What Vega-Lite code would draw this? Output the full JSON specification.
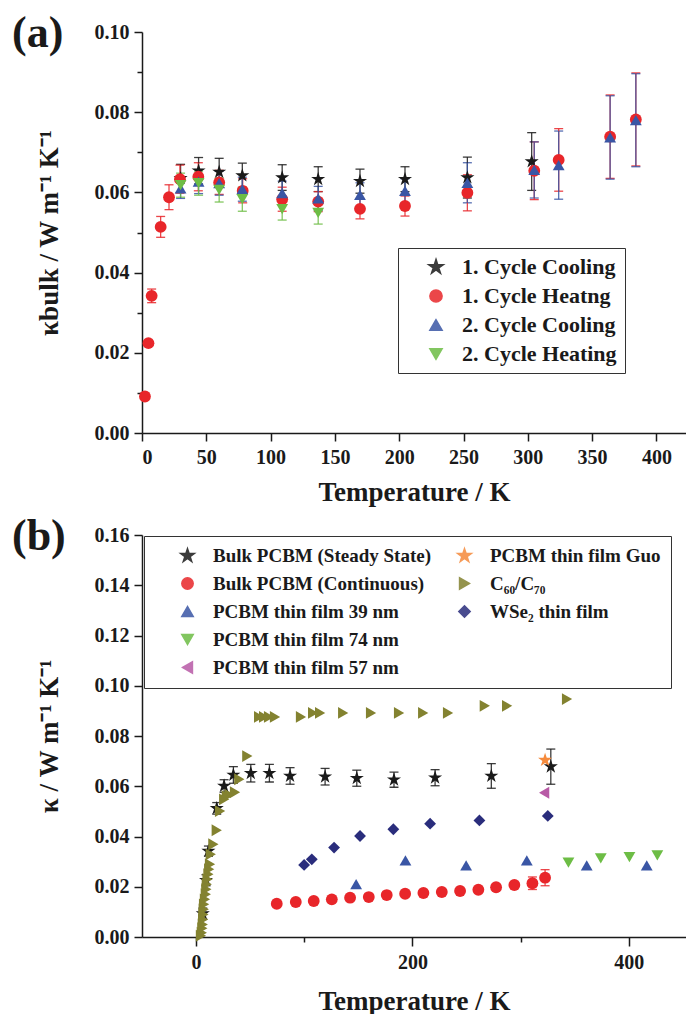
{
  "$schema": "https://vega.github.io/schema/vega-lite/v6.json",
  "background": "white",
  "padding": {"left": 12, "top": 12, "right": 0, "bottom": 0},
  "spacing": 10,
  "config": {
    "view": {"stroke": null},
    "font": "Liberation Serif",
    "axis": {
      "grid": false,
      "labelFont": "Liberation Serif", "labelFontWeight": "bold", "labelFontSize": 20, "labelColor": "#1a1a1a",
      "titleFont": "Liberation Serif", "titleFontWeight": "bold", "titleFontSize": 27, "titleColor": "#1a1a1a",
      "domainColor": "#1a1a1a", "domainWidth": 1.5, "tickColor": "#1a1a1a", "tickWidth": 1.5
    },
    "legend": {
      "labelFont": "Liberation Serif", "labelFontWeight": "bold", "labelColor": "#1a1a1a", "labelLimit": 400,
      "strokeColor": "#333333", "fillColor": "white", "title": null
    },
    "title": {"font": "Liberation Serif", "fontWeight": "bold", "fontSize": 44, "color": "#1a1a1a"}
  },
  "resolve": {"scale": {"color": "independent", "shape": "independent"}, "legend": {"color": "independent", "shape": "independent"}},
  "vconcat": [
    {
      "width": 544,
      "height": 401,
      "title": {"text": "(a)", "anchor": "start", "frame": "group", "baseline": "alphabetic", "dx": -130, "dy": 27, "offset": -42},
      "data": {"values": [
        {"s": "1. Cycle Cooling", "T": 30, "k": 0.0635, "err": 0.0035},
        {"s": "1. Cycle Cooling", "T": 44, "k": 0.0654, "err": 0.0033},
        {"s": "1. Cycle Cooling", "T": 60, "k": 0.0651, "err": 0.0034},
        {"s": "1. Cycle Cooling", "T": 78, "k": 0.0642, "err": 0.0031},
        {"s": "1. Cycle Cooling", "T": 109, "k": 0.0637, "err": 0.0032},
        {"s": "1. Cycle Cooling", "T": 137, "k": 0.0633, "err": 0.0031},
        {"s": "1. Cycle Cooling", "T": 169.5, "k": 0.0628, "err": 0.003},
        {"s": "1. Cycle Cooling", "T": 204.5, "k": 0.0633, "err": 0.0031},
        {"s": "1. Cycle Cooling", "T": 253, "k": 0.0637, "err": 0.0051},
        {"s": "1. Cycle Cooling", "T": 303, "k": 0.0677, "err": 0.0072},
        {"s": "1. Cycle Heatng", "T": 2.3, "k": 0.0091, "err": 0.0005},
        {"s": "1. Cycle Heatng", "T": 5, "k": 0.0224, "err": 0.0006},
        {"s": "1. Cycle Heatng", "T": 7.5, "k": 0.0342, "err": 0.0017},
        {"s": "1. Cycle Heatng", "T": 14.5, "k": 0.0514, "err": 0.0026},
        {"s": "1. Cycle Heatng", "T": 21, "k": 0.0588, "err": 0.0031},
        {"s": "1. Cycle Heatng", "T": 29.5, "k": 0.0633, "err": 0.0035},
        {"s": "1. Cycle Heatng", "T": 43.8, "k": 0.0639, "err": 0.0035},
        {"s": "1. Cycle Heatng", "T": 60, "k": 0.0625, "err": 0.003},
        {"s": "1. Cycle Heatng", "T": 78.3, "k": 0.0604, "err": 0.003},
        {"s": "1. Cycle Heatng", "T": 109, "k": 0.0583, "err": 0.003},
        {"s": "1. Cycle Heatng", "T": 137, "k": 0.0577, "err": 0.0025},
        {"s": "1. Cycle Heatng", "T": 169.5, "k": 0.0559, "err": 0.0025},
        {"s": "1. Cycle Heatng", "T": 204.5, "k": 0.0566, "err": 0.0025},
        {"s": "1. Cycle Heatng", "T": 253, "k": 0.0599, "err": 0.0045},
        {"s": "1. Cycle Heatng", "T": 305, "k": 0.0654, "err": 0.0072},
        {"s": "1. Cycle Heatng", "T": 324, "k": 0.0681, "err": 0.0078},
        {"s": "1. Cycle Heatng", "T": 364, "k": 0.0739, "err": 0.0104},
        {"s": "1. Cycle Heatng", "T": 384, "k": 0.0782, "err": 0.0116},
        {"s": "2. Cycle Cooling", "T": 30, "k": 0.061, "err": 0.0025},
        {"s": "2. Cycle Cooling", "T": 44, "k": 0.0627, "err": 0.003},
        {"s": "2. Cycle Cooling", "T": 60, "k": 0.0623, "err": 0.003},
        {"s": "2. Cycle Cooling", "T": 78, "k": 0.0608, "err": 0.003},
        {"s": "2. Cycle Cooling", "T": 109, "k": 0.0598, "err": 0.003},
        {"s": "2. Cycle Cooling", "T": 137, "k": 0.0585, "err": 0.003},
        {"s": "2. Cycle Cooling", "T": 169.5, "k": 0.0594, "err": 0.003},
        {"s": "2. Cycle Cooling", "T": 204.5, "k": 0.0604, "err": 0.003},
        {"s": "2. Cycle Cooling", "T": 253, "k": 0.0624, "err": 0.005},
        {"s": "2. Cycle Cooling", "T": 305, "k": 0.0656, "err": 0.007},
        {"s": "2. Cycle Cooling", "T": 324, "k": 0.0668, "err": 0.0085},
        {"s": "2. Cycle Cooling", "T": 364, "k": 0.0737, "err": 0.0104},
        {"s": "2. Cycle Cooling", "T": 384, "k": 0.078, "err": 0.0116},
        {"s": "2. Cycle Heating", "T": 30, "k": 0.0618, "err": 0.003},
        {"s": "2. Cycle Heating", "T": 44, "k": 0.0623, "err": 0.003},
        {"s": "2. Cycle Heating", "T": 60, "k": 0.0606, "err": 0.003},
        {"s": "2. Cycle Heating", "T": 78, "k": 0.0583, "err": 0.003},
        {"s": "2. Cycle Heating", "T": 109, "k": 0.0558, "err": 0.0027},
        {"s": "2. Cycle Heating", "T": 137, "k": 0.0549, "err": 0.0028}
      ]},
      "layer": [
        {
          "mark": {"type": "errorbar", "ticks": true, "size": 9, "thickness": 1.3, "opacity": 0.85},
          "encoding": {
            "x": {"field": "T", "type": "quantitative", "title": "Temperature / K"},
            "y": {"field": "k", "type": "quantitative", "title": "κbulk / W m⁻¹ K⁻¹"},
            "yError": {"field": "err"},
            "color": {"field": "s", "type": "nominal"}
          }
        },
        {
          "mark": {"type": "point", "filled": true, "opacity": 1, "size": 140},
          "encoding": {
            "x": {
              "field": "T", "type": "quantitative", "title": "Temperature / K",
              "scale": {"domain": [0, 423], "nice": false, "zero": false},
              "axis": {
                "titlePadding": 12, "labelPadding": 6,
                "values": [0, 25, 50, 75, 100, 125, 150, 175, 200, 225, 250, 275, 300, 325, 350, 375, 400],
                "labelExpr": "datum.value % 50 === 0 ? datum.label : ''",
                "tickSize": {"condition": {"test": "datum.value % 50 === 0", "value": 8}, "value": 5}
              }
            },
            "y": {
              "field": "k", "type": "quantitative", "title": "κbulk / W m⁻¹ K⁻¹",
              "scale": {"domain": [0, 0.1], "nice": false},
              "axis": {
                "titlePadding": 31, "labelPadding": 5, "format": ".2f",
                "values": [0, 0.01, 0.02, 0.03, 0.04, 0.05, 0.06, 0.07, 0.08, 0.09, 0.1],
                "labelExpr": "round(datum.value * 100) % 2 === 0 ? datum.label : ''",
                "tickSize": {"condition": {"test": "round(datum.value * 100) % 2 === 0", "value": 8}, "value": 5}
              }
            },
            "color": {
              "field": "s", "type": "nominal",
              "scale": {
                "domain": ["1. Cycle Cooling", "1. Cycle Heatng", "2. Cycle Cooling", "2. Cycle Heating"],
                "range": ["#1a1a1a", "#e8262a", "#3a56a5", "#6dbd45"]
              },
              "legend": {
                "orient": "none", "legendX": 256, "legendY": 216, "padding": 8, "symbolOffset": 19,
                "labelFontSize": 22, "symbolSize": 150, "rowPadding": 7, "labelOffset": 15
              }
            },
            "shape": {
              "field": "s", "type": "nominal",
              "scale": {
                "domain": ["1. Cycle Cooling", "1. Cycle Heatng", "2. Cycle Cooling", "2. Cycle Heating"],
                "range": ["M0,-1.25L0.281,-0.386L1.189,-0.386L0.454,0.148L0.735,1.011L0,0.478L-0.735,1.011L-0.454,0.148L-1.189,-0.386L-0.281,-0.386Z", "circle", "triangle-up", "triangle-down"]
              },
              "legend": {
                "orient": "none", "legendX": 256, "legendY": 216, "padding": 8, "symbolOffset": 19,
                "labelFontSize": 22, "symbolSize": 150, "rowPadding": 7, "labelOffset": 15
              }
            }
          }
        }
      ]
    },
    {
      "width": 544,
      "height": 402,
      "title": {"text": "(b)", "anchor": "start", "frame": "group", "baseline": "alphabetic", "dx": -130, "dy": 27, "offset": -42},
      "data": {"values": [
        {"s": "Bulk PCBM (Steady State)", "T": 6.2, "k": 0.0093, "err": 0.0022},
        {"s": "Bulk PCBM (Steady State)", "T": 9.2, "k": 0.0226, "err": 0.0022},
        {"s": "Bulk PCBM (Steady State)", "T": 11.4, "k": 0.0342, "err": 0.002},
        {"s": "Bulk PCBM (Steady State)", "T": 19.1, "k": 0.0512, "err": 0.0023},
        {"s": "Bulk PCBM (Steady State)", "T": 25.9, "k": 0.0601, "err": 0.0025},
        {"s": "Bulk PCBM (Steady State)", "T": 34.5, "k": 0.0645, "err": 0.0033},
        {"s": "Bulk PCBM (Steady State)", "T": 50.6, "k": 0.0652, "err": 0.0035},
        {"s": "Bulk PCBM (Steady State)", "T": 67.8, "k": 0.0652, "err": 0.0035},
        {"s": "Bulk PCBM (Steady State)", "T": 86.9, "k": 0.0641, "err": 0.0033},
        {"s": "Bulk PCBM (Steady State)", "T": 119.3, "k": 0.0638, "err": 0.0033},
        {"s": "Bulk PCBM (Steady State)", "T": 148.6, "k": 0.0632, "err": 0.0032},
        {"s": "Bulk PCBM (Steady State)", "T": 183, "k": 0.0626, "err": 0.003},
        {"s": "Bulk PCBM (Steady State)", "T": 221, "k": 0.0634, "err": 0.0032},
        {"s": "Bulk PCBM (Steady State)", "T": 273, "k": 0.0641, "err": 0.0049},
        {"s": "Bulk PCBM (Steady State)", "T": 328, "k": 0.0678, "err": 0.007},
        {"s": "Bulk PCBM (Continuous)", "T": 74.6, "k": 0.01325, "err": 0.0006},
        {"s": "Bulk PCBM (Continuous)", "T": 92.2, "k": 0.01393, "err": 0.0006},
        {"s": "Bulk PCBM (Continuous)", "T": 108.8, "k": 0.01433, "err": 0.0006},
        {"s": "Bulk PCBM (Continuous)", "T": 125.5, "k": 0.015, "err": 0.0006},
        {"s": "Bulk PCBM (Continuous)", "T": 142.4, "k": 0.01564, "err": 0.0006},
        {"s": "Bulk PCBM (Continuous)", "T": 159.7, "k": 0.0159, "err": 0.0006},
        {"s": "Bulk PCBM (Continuous)", "T": 176.3, "k": 0.0167, "err": 0.0006},
        {"s": "Bulk PCBM (Continuous)", "T": 193.3, "k": 0.0172, "err": 0.0006},
        {"s": "Bulk PCBM (Continuous)", "T": 210.2, "k": 0.0175, "err": 0.0006},
        {"s": "Bulk PCBM (Continuous)", "T": 227.2, "k": 0.0179, "err": 0.0006},
        {"s": "Bulk PCBM (Continuous)", "T": 244.1, "k": 0.0183, "err": 0.0006},
        {"s": "Bulk PCBM (Continuous)", "T": 261, "k": 0.0188, "err": 0.0007},
        {"s": "Bulk PCBM (Continuous)", "T": 277.4, "k": 0.0198, "err": 0.0008},
        {"s": "Bulk PCBM (Continuous)", "T": 294.3, "k": 0.0207, "err": 0.001},
        {"s": "Bulk PCBM (Continuous)", "T": 311, "k": 0.0214, "err": 0.0025},
        {"s": "Bulk PCBM (Continuous)", "T": 322.7, "k": 0.0236, "err": 0.0032},
        {"s": "C₆₀/C₇₀", "T": 4.5, "k": 0.0005},
        {"s": "C₆₀/C₇₀", "T": 5.3, "k": 0.0017},
        {"s": "C₆₀/C₇₀", "T": 5.8, "k": 0.0035},
        {"s": "C₆₀/C₇₀", "T": 6.2, "k": 0.005},
        {"s": "C₆₀/C₇₀", "T": 6.5, "k": 0.007},
        {"s": "C₆₀/C₇₀", "T": 6.8, "k": 0.009},
        {"s": "C₆₀/C₇₀", "T": 7.1, "k": 0.011},
        {"s": "C₆₀/C₇₀", "T": 7.4, "k": 0.013},
        {"s": "C₆₀/C₇₀", "T": 8.2, "k": 0.015},
        {"s": "C₆₀/C₇₀", "T": 9, "k": 0.017},
        {"s": "C₆₀/C₇₀", "T": 9.5, "k": 0.019},
        {"s": "C₆₀/C₇₀", "T": 9.9, "k": 0.021},
        {"s": "C₆₀/C₇₀", "T": 10.6, "k": 0.023},
        {"s": "C₆₀/C₇₀", "T": 11.4, "k": 0.025},
        {"s": "C₆₀/C₇₀", "T": 12.1, "k": 0.027},
        {"s": "C₆₀/C₇₀", "T": 12.9, "k": 0.029},
        {"s": "C₆₀/C₇₀", "T": 13.6, "k": 0.0329},
        {"s": "C₆₀/C₇₀", "T": 16, "k": 0.0369},
        {"s": "C₆₀/C₇₀", "T": 19.1, "k": 0.0425},
        {"s": "C₆₀/C₇₀", "T": 22.2, "k": 0.0501},
        {"s": "C₆₀/C₇₀", "T": 26, "k": 0.0548},
        {"s": "C₆₀/C₇₀", "T": 28.4, "k": 0.0561},
        {"s": "C₆₀/C₇₀", "T": 31, "k": 0.0566},
        {"s": "C₆₀/C₇₀", "T": 36, "k": 0.0576},
        {"s": "C₆₀/C₇₀", "T": 40, "k": 0.0628},
        {"s": "C₆₀/C₇₀", "T": 47.4, "k": 0.072},
        {"s": "C₆₀/C₇₀", "T": 58.3, "k": 0.0876},
        {"s": "C₆₀/C₇₀", "T": 62.9, "k": 0.0876},
        {"s": "C₆₀/C₇₀", "T": 67.5, "k": 0.0876},
        {"s": "C₆₀/C₇₀", "T": 73, "k": 0.0876},
        {"s": "C₆₀/C₇₀", "T": 97, "k": 0.0876},
        {"s": "C₆₀/C₇₀", "T": 108.2, "k": 0.0892},
        {"s": "C₆₀/C₇₀", "T": 114.7, "k": 0.0892},
        {"s": "C₆₀/C₇₀", "T": 136, "k": 0.0892},
        {"s": "C₆₀/C₇₀", "T": 161.8, "k": 0.0892},
        {"s": "C₆₀/C₇₀", "T": 187.7, "k": 0.0892},
        {"s": "C₆₀/C₇₀", "T": 210, "k": 0.0892},
        {"s": "C₆₀/C₇₀", "T": 233, "k": 0.0892},
        {"s": "C₆₀/C₇₀", "T": 267, "k": 0.092},
        {"s": "C₆₀/C₇₀", "T": 287.6, "k": 0.092},
        {"s": "C₆₀/C₇₀", "T": 343, "k": 0.0947},
        {"s": "PCBM thin film 39 nm", "T": 148, "k": 0.021},
        {"s": "PCBM thin film 39 nm", "T": 193.6, "k": 0.0305},
        {"s": "PCBM thin film 39 nm", "T": 249.7, "k": 0.0285},
        {"s": "PCBM thin film 39 nm", "T": 305.8, "k": 0.0305},
        {"s": "PCBM thin film 39 nm", "T": 361.2, "k": 0.0285},
        {"s": "PCBM thin film 39 nm", "T": 416.7, "k": 0.0285},
        {"s": "PCBM thin film 74 nm", "T": 344.3, "k": 0.0296},
        {"s": "PCBM thin film 74 nm", "T": 374.2, "k": 0.0313},
        {"s": "PCBM thin film 74 nm", "T": 400.7, "k": 0.0318},
        {"s": "PCBM thin film 74 nm", "T": 426.5, "k": 0.0325},
        {"s": "PCBM thin film 57 nm", "T": 321.8, "k": 0.0574},
        {"s": "PCBM thin film Guo", "T": 322.7, "k": 0.0704},
        {"s": "WSe₂ thin film", "T": 99.9, "k": 0.0287},
        {"s": "WSe₂ thin film", "T": 107, "k": 0.0309},
        {"s": "WSe₂ thin film", "T": 127.6, "k": 0.0356},
        {"s": "WSe₂ thin film", "T": 151.6, "k": 0.0402},
        {"s": "WSe₂ thin film", "T": 182.4, "k": 0.0429},
        {"s": "WSe₂ thin film", "T": 216.4, "k": 0.0451},
        {"s": "WSe₂ thin film", "T": 262, "k": 0.0464},
        {"s": "WSe₂ thin film", "T": 325.2, "k": 0.0482}
      ]},
      "layer": [
        {
          "transform": [{"filter": "isValid(datum.err)"}],
          "mark": {"type": "errorbar", "ticks": true, "size": 9, "thickness": 1.3, "opacity": 0.85},
          "encoding": {
            "x": {"field": "T", "type": "quantitative", "title": "Temperature / K"},
            "y": {"field": "k", "type": "quantitative", "title": "κ / W m⁻¹ K⁻¹"},
            "yError": {"field": "err"},
            "color": {"field": "s", "type": "nominal"}
          }
        },
        {
          "mark": {"type": "point", "filled": true, "opacity": 1, "size": 140},
          "encoding": {
            "x": {
              "field": "T", "type": "quantitative", "title": "Temperature / K",
              "scale": {"domain": [-50, 453], "nice": false, "zero": false},
              "axis": {
                "titlePadding": 16, "labelPadding": 6,
                "values": [0, 100, 200, 300, 400],
                "labelExpr": "datum.value % 200 === 0 ? datum.label : ''",
                "tickSize": {"condition": {"test": "datum.value % 200 === 0", "value": 9}, "value": 5}
              }
            },
            "y": {
              "field": "k", "type": "quantitative", "title": "κ / W m⁻¹ K⁻¹",
              "scale": {"domain": [0, 0.16], "nice": false},
              "axis": {
                "titlePadding": 31, "labelPadding": 5, "format": ".2f",
                "values": [0, 0.01, 0.02, 0.03, 0.04, 0.05, 0.06, 0.07, 0.08, 0.09, 0.1, 0.11, 0.12, 0.13, 0.14, 0.15, 0.16],
                "labelExpr": "round(datum.value * 100) % 2 === 0 ? datum.label : ''",
                "tickSize": {"condition": {"test": "round(datum.value * 100) % 2 === 0", "value": 8}, "value": 5}
              }
            },
            "color": {
              "field": "s", "type": "nominal",
              "scale": {
                "domain": ["Bulk PCBM (Steady State)", "Bulk PCBM (Continuous)", "PCBM thin film 39 nm", "PCBM thin film 74 nm", "PCBM thin film 57 nm", "PCBM thin film Guo", "C₆₀/C₇₀", "WSe₂ thin film", " "],
                "range": ["#1a1a1a", "#e8262a", "#3a56a5", "#6dbd45", "#b85aa6", "#f58a3c", "#838230", "#2a2d7c", "rgba(0,0,0,0)"]
              },
              "legend": {
                "orient": "none", "legendX": 2, "legendY": 1, "padding": 10, "columns": 2, "symbolOffset": 24,
                "labelFontSize": 19, "symbolSize": 130, "rowPadding": 8, "columnPadding": -8, "labelOffset": 16
              }
            },
            "shape": {
              "field": "s", "type": "nominal",
              "scale": {
                "domain": ["Bulk PCBM (Steady State)", "Bulk PCBM (Continuous)", "PCBM thin film 39 nm", "PCBM thin film 74 nm", "PCBM thin film 57 nm", "PCBM thin film Guo", "C₆₀/C₇₀", "WSe₂ thin film", " "],
                "range": ["M0,-1.25L0.281,-0.386L1.189,-0.386L0.454,0.148L0.735,1.011L0,0.478L-0.735,1.011L-0.454,0.148L-1.189,-0.386L-0.281,-0.386Z", "circle", "triangle-up", "triangle-down", "triangle-left", "M0,-1.25L0.281,-0.386L1.189,-0.386L0.454,0.148L0.735,1.011L0,0.478L-0.735,1.011L-0.454,0.148L-1.189,-0.386L-0.281,-0.386Z", "triangle-right", "diamond", "circle"]
              },
              "legend": {
                "orient": "none", "legendX": 2, "legendY": 1, "padding": 10, "columns": 2, "symbolOffset": 24,
                "labelFontSize": 19, "symbolSize": 130, "rowPadding": 8, "columnPadding": -8, "labelOffset": 16
              }
            }
          }
        }
      ]
    }
  ]
}
